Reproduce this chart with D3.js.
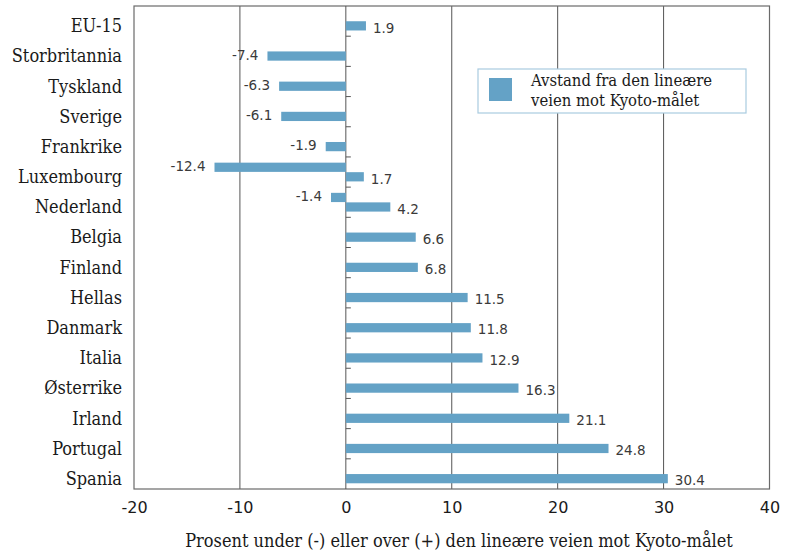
<!DOCTYPE html>
<html>
<head>
<meta charset="utf-8">
<script src="https://cdn.jsdelivr.net/npm/d3@7/dist/d3.min.js"></script>
<style>
  html, body { margin: 0; padding: 0; background: #fff; }
  svg { display: block; }
</style>
</head>
<body>
<svg id="chart" width="792" height="553"></svg>
<script>
// Countries, top to bottom
const countries = ["EU-15", "Storbritannia", "Tyskland", "Sverige", "Frankrike", "Luxembourg",
  "Nederland", "Belgia", "Finland", "Hellas", "Danmark", "Italia", "Østerrike", "Irland",
  "Portugal", "Spania"];

// Distance from the linear path to the Kyoto target (%)
const gapValues = [1.9, -7.4, -6.3, -6.1, -1.9, 1.7, 4.2, 6.6, 6.8, 11.5, 11.8, 12.9, 16.3,
  21.1, 24.8, 30.4];

// Additional bars drawn in the upper slot of a row
const upperValues = [null, null, null, null, null, -12.4, -1.4, null, null, null, null, null,
  null, null, null, null];

const xTicks = [-20, -10, 0, 10, 20, 30, 40];
const legendLines = ["Avstand fra den lineære", "veien mot Kyoto-målet"];
const axisTitle = "Prosent under (-) eller over (+) den lineære veien mot Kyoto-målet";

const barColor = "#64a2c6";
const serif = "'DejaVu Serif Condensed', 'DejaVu Serif', serif";
const sans = "'DejaVu Sans', sans-serif";

// Plain hyphen for negative numbers
const locale = d3.formatLocale({ decimal: ".", thousands: "", grouping: [3], currency: ["", ""], minus: "-" });
const fmtValue = locale.format(".1f");
const fmtTick = locale.format("d");

const svg = d3.select("#chart");
const plot = { left: 134, right: 769.5, top: 6, bottom: 489 };

const x = d3.scaleLinear().domain([-20, 40]).range([plot.left, plot.right]);
const y = d3.scaleBand().domain(countries).range([plot.top, plot.bottom]);
const slot = d3.scaleBand().domain(["upper", "gap"]).range([0, y.bandwidth()])
  .paddingInner(0.03).paddingOuter(0.6);

// Vertical grid lines
svg.append("g")
  .selectAll("line")
  .data(xTicks.filter(t => t !== -20 && t !== 40 && t !== 0))
  .join("line")
  .attr("x1", d => x(d)).attr("x2", d => x(d))
  .attr("y1", plot.top).attr("y2", plot.bottom)
  .attr("stroke", "#555").attr("stroke-width", 1);

// Frame
svg.append("rect")
  .attr("x", plot.left).attr("y", plot.top)
  .attr("width", plot.right - plot.left).attr("height", plot.bottom - plot.top)
  .attr("fill", "none").attr("stroke", "#6a6a6a").attr("stroke-width", 1.2);

// Zero line with category separators
const zero = svg.append("g");
zero.append("line")
  .attr("x1", x(0)).attr("x2", x(0))
  .attr("y1", plot.top).attr("y2", plot.bottom)
  .attr("stroke", "#555").attr("stroke-width", 1);
zero.selectAll("line.sep")
  .data(countries.slice(1))
  .join("line").attr("class", "sep")
  .attr("x1", x(0)).attr("x2", x(0) + 5)
  .attr("y1", d => y(d)).attr("y2", d => y(d))
  .attr("stroke", "#555").attr("stroke-width", 1);

// Bars
const rows = countries.map((c, i) => ({ c, gap: gapValues[i], upper: upperValues[i] }));
const barData = [];
rows.forEach(r => {
  barData.push({ c: r.c, v: r.gap, s: "gap" });
  if (r.upper !== null) barData.push({ c: r.c, v: r.upper, s: "upper" });
});

svg.append("g")
  .selectAll("rect")
  .data(barData)
  .join("rect")
  .attr("x", d => x(Math.min(0, d.v)))
  .attr("width", d => Math.abs(x(d.v) - x(0)))
  .attr("y", d => y(d.c) + slot(d.s))
  .attr("height", slot.bandwidth())
  .attr("fill", barColor);

// Value labels
svg.append("g")
  .selectAll("text")
  .data(barData)
  .join("text")
  .attr("x", d => d.v >= 0 ? x(d.v) + 7 : x(d.v) - 9)
  .attr("y", d => y(d.c) + slot(d.s) + slot.bandwidth() / 2 + (d.v >= 0 ? 2 : -1))
  .attr("dy", "0.35em")
  .attr("text-anchor", d => d.v >= 0 ? "start" : "end")
  .attr("font-family", sans).attr("font-size", 13.5).attr("fill", "#3a3a3a")
  .text(d => fmtValue(d.v));

// Category labels
svg.append("g")
  .selectAll("text")
  .data(countries)
  .join("text")
  .attr("x", 122)
  .attr("y", d => y(d) + slot("gap") + slot.bandwidth() / 2)
  .attr("dy", "0.35em")
  .attr("text-anchor", "end")
  .attr("font-family", serif).attr("font-size", 18).attr("fill", "#1a1a1a")
  .text(d => d);

// X axis labels
const xAxis = d3.axisBottom(x).tickValues(xTicks).tickFormat(fmtTick).tickSize(0).tickPadding(13);
const xg = svg.append("g").attr("transform", `translate(0,${plot.bottom})`).call(xAxis);
xg.select(".domain").remove();
xg.selectAll("text")
  .attr("font-family", sans).attr("font-size", 16).attr("fill", "#1a1a1a");

// Axis title
svg.append("text")
  .attr("x", 459).attr("y", 547)
  .attr("text-anchor", "middle")
  .attr("font-family", serif).attr("font-size", 18).attr("fill", "#1a1a1a")
  .text(axisTitle);

// Legend
const legend = svg.append("g");
legend.append("rect")
  .attr("x", 478).attr("y", 69).attr("width", 268).attr("height", 44)
  .attr("fill", "#fff").attr("stroke", "#a9cbe0").attr("stroke-width", 1.2);
legend.append("rect")
  .attr("x", 489).attr("y", 78).attr("width", 23).attr("height", 23)
  .attr("fill", barColor);
legend.selectAll("text.l")
  .data(legendLines)
  .join("text").attr("class", "l")
  .attr("x", 531).attr("y", (d, i) => 86 + i * 20)
  .attr("font-family", serif).attr("font-size", 16.5).attr("fill", "#1a1a1a")
  .text(d => d);
</script>
</body>
</html>
